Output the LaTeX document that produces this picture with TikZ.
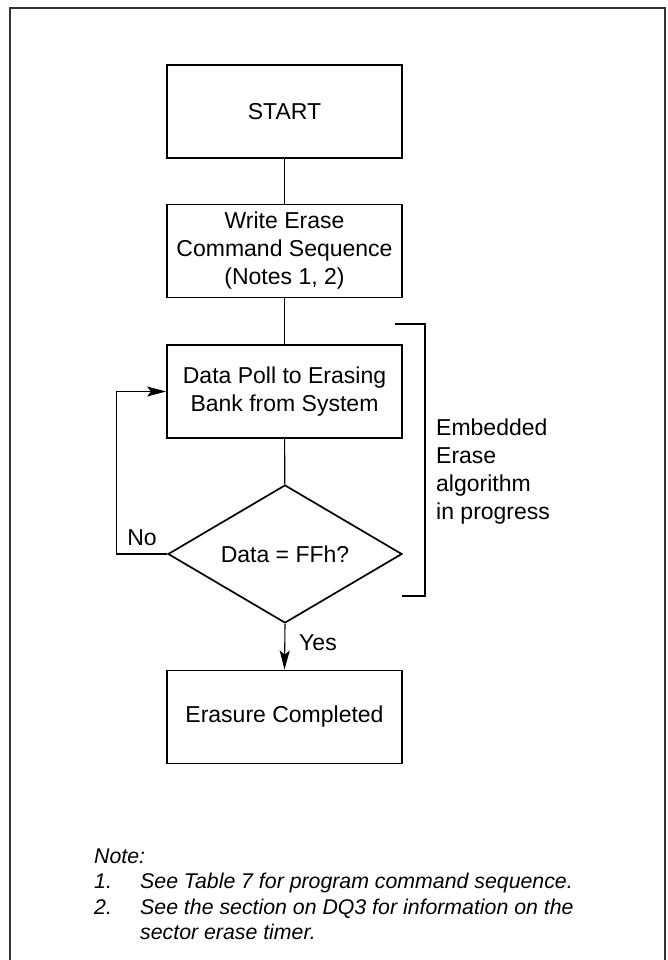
\documentclass[tikz,border=0pt]{standalone}
\usepackage{fontspec}
\setmainfont{Liberation Sans}
\usetikzlibrary{shapes.geometric,arrows.meta}
\begin{document}
\begin{tikzpicture}[x=1pt,y=-1pt,
  txt/.style={font=\fontsize{23}{28}\selectfont},
  notetxt/.style={font=\fontsize{21.3}{25.5}\selectfont\itshape, inner sep=0pt},
  box/.style={draw, line width=1.9pt, minimum width=235pt, minimum height=93pt,
    align=center, inner sep=0pt, txt},
  dec/.style={draw, diamond, aspect=1.7, line width=1.7pt, minimum width=234pt,
    minimum height=138pt, inner sep=0pt, txt},
  conn/.style={line width=1.1pt},
  arr/.style={conn, -{Stealth[length=19pt,width=10pt,inset=4pt]}},
  brk/.style={line width=1.9pt},
  frame/.style={line width=1.4pt, draw=black!80}]
\useasboundingbox (0,0) rectangle (668,960);
% outer frame
\draw[frame] (10,961) -- (10,8) -- (665,8) -- (665,961);
% flow nodes
\node[box] (start) at (284.5,111.5) {START};
\node[box] (write) at (284.5,251) {Write Erase\\Command Sequence\\(Notes 1, 2)};
\node[box] (poll)  at (284.5,391.5) {Data Poll to Erasing\\Bank from System};
\node[dec] (test)  at (285,554) {Data = FFh?};
\node[box] (done)  at (284.5,717) {Erasure Completed};
% connectors
\draw[conn] (start) -- (write);
\draw[conn] (write) -- (poll);
\draw[conn] (poll) -- (test);
\draw[arr] (test.south) -- (done.north);
\draw[arr] (test.west) -- ++(-51,0) |- (poll.west);
% labels
\node[txt, inner sep=0pt] (yes) at (318,643) {Yes};
\node[txt, inner sep=0pt] (no) at (142,538) {No};
% bracket
\coordinate (b1) at (395,324);
\coordinate (b2) at (425,324);
\coordinate (b3) at (425,596);
\coordinate (b4) at (402,596);
\draw[brk] (b1) -- (b2) -- (b3) -- (b4);
\node[txt, anchor=west, align=left, inner sep=0pt] (emb) at (436,472)
  {Embedded\\Erase\\algorithm\\in progress};
% notes
\node[notetxt, anchor=base west] (nh) at (94,863) {Note:};
\node[notetxt, anchor=base west] (n1) at (94,888) {1.};
\node[notetxt, anchor=base west] (t1) at (140,888) {See Table 7 for program command sequence.};
\node[notetxt, anchor=base west] (n2) at (94,914) {2.};
\node[notetxt, anchor=base west] (t2) at (140,914) {See the section on DQ3 for information on the};
\node[notetxt, anchor=base west] (t3) at (140,939) {sector erase timer.};
\end{tikzpicture}
\end{document}
